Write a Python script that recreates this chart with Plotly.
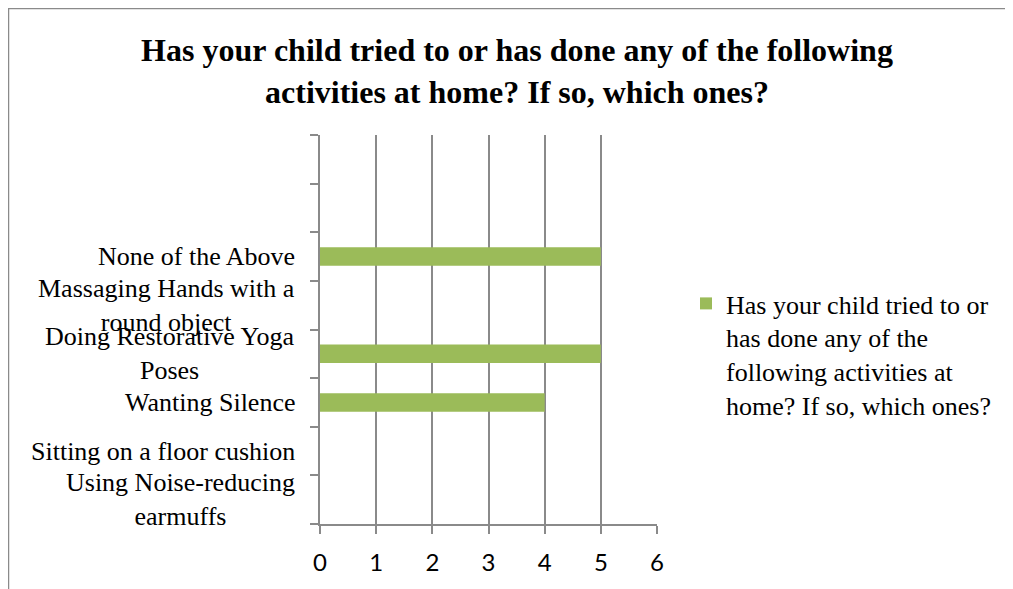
import plotly.graph_objects as go

categories = [
    "Using Noise-reducing<br>earmuffs",
    "Sitting on a floor cushion",
    "Wanting Silence",
    "Doing Restorative Yoga<br>Poses",
    "Massaging Hands with a<br>round object",
    "None of the Above",
    " ",
    "  ",
]
values = [0, 0, 4, 5, 0, 5, None, None]
series_name = "Has your child tried to or<br>has done any of the<br>following activities at<br>home? If so, which ones?"
x_ticks = [0, 1, 2, 3, 4, 5, 6]
title_text = "Has your child tried to or has done any of the following<br>activities at home? If so, which ones?"

# page body has an 8px margin: work in screen pixels and convert
OFF = 8
SW, SH = 1013, 589
W, H = SW - OFF, SH - OFF
L, R, T, B = 320, 657, 135, 524  # screen coordinates of the plot area
pw, ph = R - L, B - T

def px_x(x):
    return (x - L) / pw

def px_y(y):
    return (B - y) / ph

grey = "#8a8a8a"

fig = go.Figure()
fig.add_trace(go.Bar(
    y=categories, x=values, orientation="h", name=series_name,
    marker=dict(color="#9BBB59", line=dict(width=0)), width=0.38,
    showlegend=True,
))

annotations = []
for c in categories:
    if c.strip() == "":
        continue
    annotations.append(dict(
        x=0, xref="paper", y=c, yref="y", text=c, showarrow=False,
        xanchor="right", yanchor="middle", align="center", xshift=-23,
        font=dict(family="Liberation Serif", size=26, color="black"),
    ))

fig.update_layout(
    width=W, height=H,
    margin=dict(l=L - OFF, r=SW - R, t=T - OFF, b=SH - B, pad=0),
    paper_bgcolor="white", plot_bgcolor="white",
    title=dict(text=title_text, x=(517 - OFF) / W, xref="container", xanchor="center",
               y=1 - 53 / H, yref="container", yanchor="top",
               font=dict(family="Liberation Serif", size=32, color="black", weight="bold")),
    xaxis=dict(range=[0, 6], tickvals=x_ticks, showgrid=True, gridcolor=grey, gridwidth=1.5,
               showline=True, linecolor=grey, linewidth=1.5, ticks="outside", ticklen=8,
               tickcolor=grey, tickwidth=1.5, zeroline=False, ticklabelstandoff=8,
               tickfont=dict(family="Lato", size=24, color="black"), fixedrange=True),
    yaxis=dict(type="category", categoryorder="array", categoryarray=categories,
               range=[-0.5, len(categories) - 0.5], showticklabels=False,
               showline=True, linecolor=grey, linewidth=1.5, ticks="outside", ticklen=8,
               tickcolor=grey, tickwidth=1.5, tickson="boundaries", showgrid=False,
               zeroline=False, fixedrange=True),
    legend=dict(x=px_x(686), y=px_y(280), xanchor="left", yanchor="top", valign="top",
                font=dict(family="Liberation Serif", size=26, color="black"),
                bgcolor="rgba(0,0,0,0)"),
    annotations=annotations,
    shapes=[dict(type="rect", xref="paper", yref="paper",
                 x0=px_x(8.5), x1=px_x(SW + 20), y0=px_y(SH + 20), y1=px_y(8.5),
                 line=dict(color=grey, width=1.5), fillcolor="rgba(0,0,0,0)", layer="below")],
)

fig.write_html("out.html")
